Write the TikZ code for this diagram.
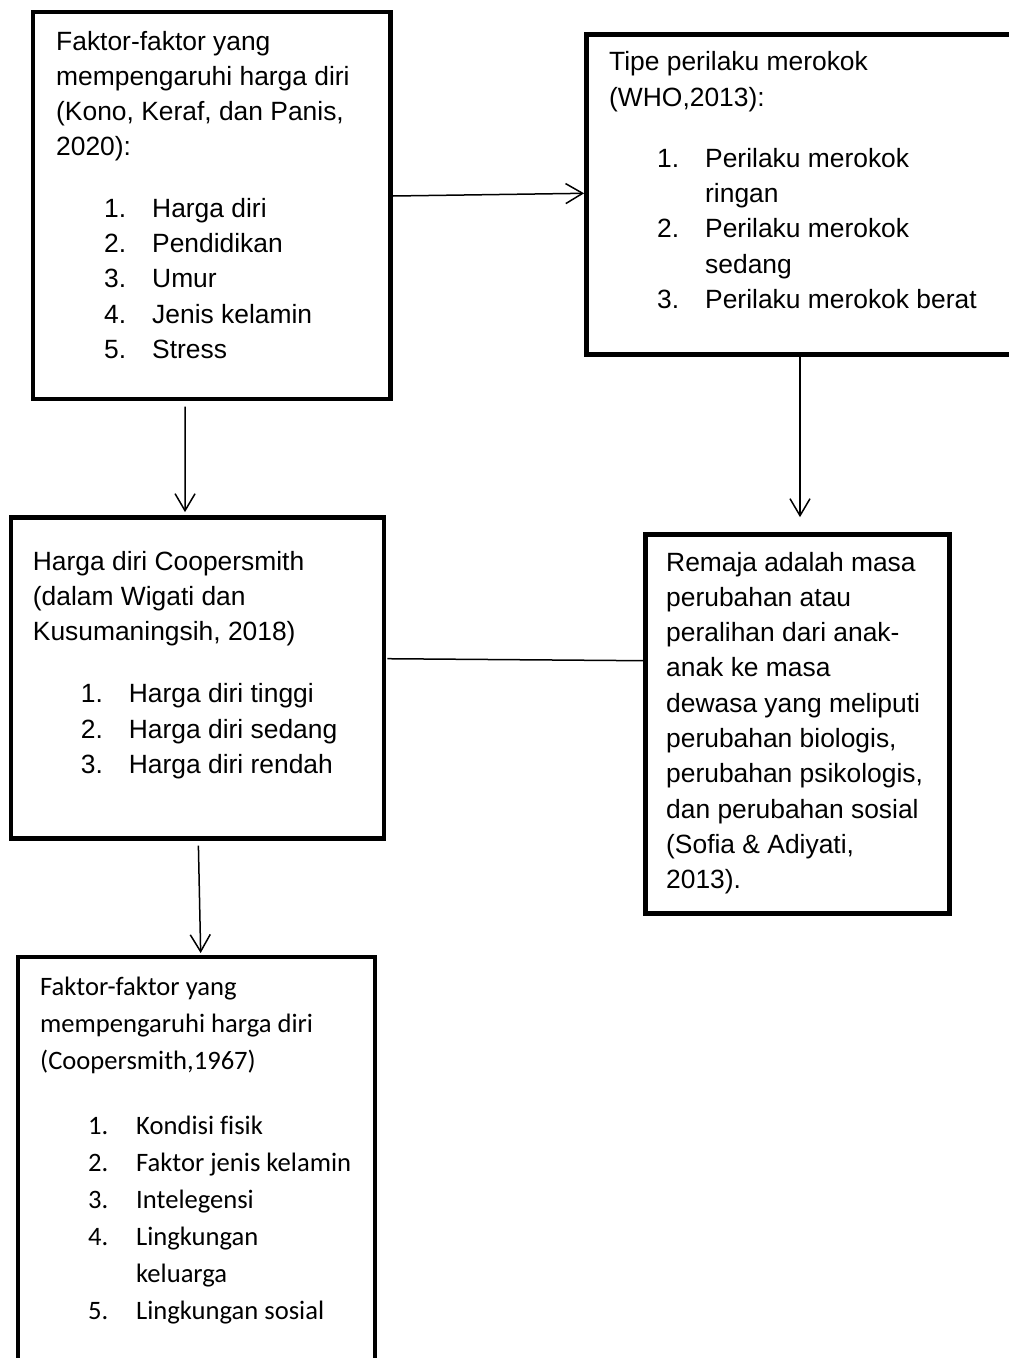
\documentclass[tikz,border=0pt]{standalone}
\usepackage{fontspec}
\setmainfont{Liberation Sans}
\newfontfamily\calibri{Carlito}[Ligatures=NoCommon]
\usetikzlibrary{arrows.meta}

\newcommand{\li}[2]{\hspace*{48pt}\makebox[48pt][l]{#1}#2}
\newcommand{\lc}[1]{\hspace*{96pt}#1}

\begin{document}
\begin{tikzpicture}[x=1pt, y=1pt,
    box/.style={draw, line width=4.7pt, inner sep=0pt},
    txt/.style={anchor=base west, inner sep=0pt, align=flush left, text width=420pt,
      font=\fontsize{26.4pt}{35.3pt}\selectfont},
    conn/.style={line width=1.5pt},
    arr/.style={conn, -{Straight Barb[length=17pt, width=20pt]}}]
    \clip (0,0) rectangle (1009,-1358);

    % boxes
    \node[box, minimum width=357.5pt, minimum height=387pt] (faktor) at (211.75,-205.5) {};
    \node[box, minimum width=429.5pt, minimum height=319.8pt] (tipe) at (801.25,-194.6) {};
    \node[box, minimum width=373pt, minimum height=321pt] (harga) at (197.5,-678) {};
    \node[box, minimum width=304pt, minimum height=379pt] (remaja) at (797.5,-724) {};
    \node[box, minimum width=357pt, minimum height=413pt] (cooper) at (196.5,-1163.5) {};

    % texts
    \node[txt] (faktorTxt) at (56,-50) {Faktor-faktor yang\\
      mempengaruhi harga diri\\
      (Kono, Keraf, dan Panis,\\
      2020):\\[26pt]
      \li{1.}{Harga diri}\\
      \li{2.}{Pendidikan}\\
      \li{3.}{Umur}\\
      \li{4.}{Jenis kelamin}\\
      \li{5.}{Stress}};
    \node[txt] (tipeTxt) at (609,-70.7) {Tipe perilaku merokok\\
      (WHO,2013):\\[26pt]
      \li{1.}{Perilaku merokok}\\
      \lc{ringan}\\
      \li{2.}{Perilaku merokok}\\
      \lc{sedang}\\
      \li{3.}{Perilaku merokok berat}};
    \node[txt] (hargaTxt) at (32.7,-570) {Harga diri Coopersmith\\
      (dalam Wigati dan\\
      Kusumaningsih, 2018)\\[27pt]
      \li{1.}{Harga diri tinggi}\\
      \li{2.}{Harga diri sedang}\\
      \li{3.}{Harga diri rendah}};
    \node[txt] (remajaTxt) at (666,-571) {Remaja adalah masa\\
      perubahan atau\\
      peralihan dari anak-\\
      anak ke masa\\
      dewasa yang meliputi\\
      perubahan biologis,\\
      perubahan psikologis,\\
      dan perubahan sosial\\
      (Sofia \& Adiyati,\\
      2013).};
    \node[txt, font=\calibri\fontsize{26.6pt}{37pt}\selectfont] (cooperTxt) at (40,-995.7) {Faktor-faktor yang\\
      mempengaruhi harga diri\\
      (Coopersmith,1967)\\[28pt]
      \li{1.}{Kondisi fisik}\\
      \li{2.}{Faktor jenis kelamin}\\
      \li{3.}{Intelegensi}\\
      \li{4.}{Lingkungan}\\
      \lc{keluarga}\\
      \li{5.}{Lingkungan sosial}};

    % connectors
    \draw[arr] ([yshift=9.5pt]faktor.east) -- ([yshift=1.3pt]tipe.west);
    \draw[arr, shorten <=5.3pt, shorten >=3pt] ([xshift=-26.5pt]faktor.south) -- ([xshift=-12.5pt]harga.north);
    \draw[arr, shorten >=15pt] ([xshift=-1.25pt]tipe.south) -- ([xshift=2.5pt]remaja.north);
    \draw[arr, shorten <=4.7pt, shorten >=1.6pt] ([xshift=0.8pt]harga.south) -- ([xshift=4.2pt]cooper.north);
    \draw[conn, shorten <=1pt] ([yshift=19.3pt]harga.east) -- ([yshift=63.3pt]remaja.west);
\end{tikzpicture}
\end{document}
